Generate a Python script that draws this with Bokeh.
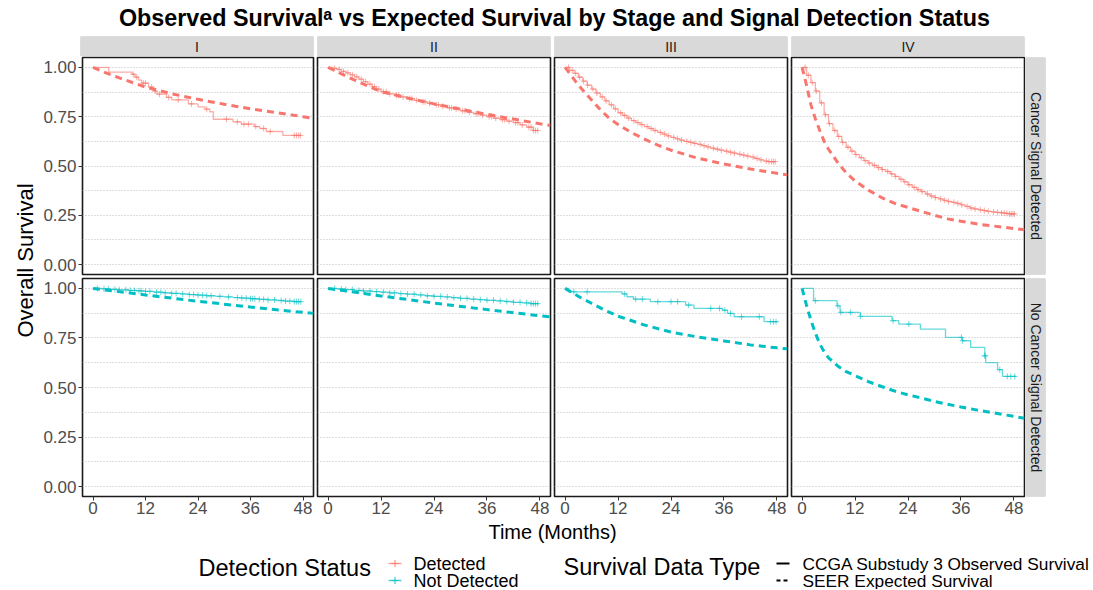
import numpy as np
from bokeh.plotting import figure
from bokeh.models import Range1d, FixedTicker, NumeralTickFormatter, LinearAxis, Grid
from bokeh.layouts import row, column
from bokeh.embed import file_html
from bokeh.resources import INLINE
from bokeh.core.properties import value

FONT = "Liberation Sans"
RED = "#F8766D"
CYAN = "#00BFC4"

TITLE = "Observed Survival\u1d43 vs Expected Survival by Stage and Signal Detection Status"
STAGES = ["I", "II", "III", "IV"]
ROW_LABELS = ["Cancer Signal Detected", "No Cancer Signal Detected"]
STATUS_LABELS = ["Detected", "Not Detected"]
TYPE_LABELS = ["CCGA Substudy 3 Observed Survival", "SEER Expected Survival"]
X_TICKS = [0, 12, 24, 36, 48]
Y_TICKS = [0.0, 0.25, 0.5, 0.75, 1.0]
Y_MINOR = [0.125, 0.375, 0.625, 0.875]

# ---------------- Observed (Kaplan-Meier) data ----------------
# Stage I, detected
obs_I_det_t = [0, 3.6, 8.9, 9.6, 10.4, 11.1, 12.7, 13.8, 14.6, 16.8, 18.0, 21.8, 24.0, 25.6, 26.7,
               27.5, 32.0, 33.9, 36.9, 38.1, 39.6, 43.4]
obs_I_det_s = [1.0, 0.976, 0.965, 0.95, 0.935, 0.92, 0.90, 0.88, 0.864, 0.848, 0.835, 0.815, 0.80,
               0.788, 0.775, 0.737, 0.724, 0.712, 0.70, 0.69, 0.675, 0.655]
obs_I_det_end = 47.5
cen_I_det = [9.2, 10.0, 11.5, 12.0, 13.4, 14.2, 15.2, 17.3, 19.5, 22.5, 26.0, 30.5, 33.0, 34.5, 35.5,
             37.2, 39.0, 40.5, 46.0, 46.5, 47.0, 47.4]

# Stage II, detected
obs_II_det_t = [0, 1, 2, 3, 4, 5, 6, 7, 8, 9, 10, 11, 12, 13.5, 15, 16.5, 18, 19.5, 21, 22.5, 24, 25.5,
                27, 28.5, 30, 31.5, 33, 34.5, 36, 37.5, 39, 40.5, 42, 43.5, 45, 46.5]
obs_II_det_s = [1.0, 0.995, 0.99, 0.98, 0.972, 0.962, 0.952, 0.94, 0.928, 0.915, 0.902, 0.89, 0.877,
                0.866, 0.858, 0.85, 0.842, 0.833, 0.825, 0.818, 0.81, 0.802, 0.795, 0.788, 0.78, 0.772,
                0.765, 0.758, 0.75, 0.742, 0.735, 0.727, 0.72, 0.708, 0.697, 0.68]
obs_II_det_end = 47.6
cen_II_det = [1.5, 2.5, 3.5, 4.5, 5.5, 6.5, 7.5, 8.5, 9.5, 10.5, 11.5, 12.5, 13.2, 14, 15.5, 16, 17,
              18.5, 19, 20, 21.5, 22, 23, 24.5, 25, 26, 27.5, 28, 29, 30.5, 31, 32, 33.5, 34, 35, 36.5,
              37, 38, 39.5, 40, 41, 42.5, 43, 44, 45.5, 46, 46.5, 47, 47.5]

# Stage III, detected
obs_III_det_t = [0, 1, 2, 3, 4, 5, 6, 7, 8, 9, 10, 11, 12, 13, 14, 15, 16, 17, 18, 19, 20, 21, 22, 23,
                 24, 25, 26, 27, 28, 29, 30, 31, 32, 33, 34, 35, 36, 37, 38, 39, 40, 41, 42, 43, 44,
                 45, 46]
obs_III_det_s = [1.0, 0.985, 0.97, 0.95, 0.93, 0.91, 0.89, 0.87, 0.85, 0.83, 0.81, 0.79, 0.77, 0.757,
                 0.743, 0.73, 0.72, 0.71, 0.70, 0.69, 0.68, 0.67, 0.662, 0.653, 0.645, 0.638, 0.631,
                 0.625, 0.62, 0.615, 0.61, 0.603, 0.597, 0.59, 0.585, 0.58, 0.575, 0.57, 0.565, 0.56,
                 0.555, 0.55, 0.545, 0.538, 0.531, 0.525, 0.522]
obs_III_det_end = 47.8
cen_III_det = [0.8, 1.6, 2.4, 3.3, 4.2, 5.1, 6.3, 7.2, 8.4, 9.3, 10.5, 11.4, 12.6, 13.5, 14.4, 15.6,
               16.5, 17.4, 18.6, 19.5, 20.4, 21.6, 22.5, 23.4, 24.6, 25.5, 26.4, 27.6, 28.5, 29.4,
               30.6, 31.5, 32.4, 33.6, 34.5, 35.4, 36.6, 37.5, 38.4, 39.6, 40.5, 41.4, 42.6, 43.5,
               44.4, 45.6, 46.2, 46.8, 47.2, 47.6]

# Stage IV, detected
obs_IV_det_t = [0, 1, 2, 3, 4, 5, 6, 7, 8, 9, 10, 11, 12, 13, 14, 15, 16, 17, 18, 19, 20, 21, 22, 23,
                24, 25, 26, 27, 28, 29, 30, 31, 32, 33, 34, 35, 36, 37, 38, 39, 40, 41, 42, 43, 44,
                45, 46, 47]
obs_IV_det_s = [1.0, 0.96, 0.923, 0.88, 0.82, 0.76, 0.715, 0.68, 0.65, 0.62, 0.595, 0.575, 0.558,
                0.542, 0.527, 0.515, 0.503, 0.492, 0.482, 0.472, 0.46, 0.447, 0.433, 0.42, 0.405,
                0.392, 0.38, 0.37, 0.358, 0.348, 0.34, 0.333, 0.326, 0.32, 0.316, 0.31, 0.303, 0.295,
                0.287, 0.282, 0.278, 0.274, 0.27, 0.267, 0.265, 0.262, 0.26, 0.257]
obs_IV_det_end = 48.2
cen_IV_det = [0.7, 1.4, 2.3, 3.2, 4.4, 5.3, 6.2, 7.4, 8.3, 9.2, 10.4, 11.3, 12.2, 13.4, 14.3, 15.2,
              16.4, 17.3, 18.2, 19.4, 20.3, 21.2, 22.4, 23.3, 24.2, 25.4, 26.3, 27.2, 28.4, 29.3,
              30.2, 31.4, 32.3, 33.2, 34.4, 35.3, 36.2, 37.4, 38.3, 39.2, 40.4, 41.3, 42.2, 43.4,
              44.3, 45.2, 45.8, 46.4, 47.0, 47.4, 47.8, 48.1]

# Stage I, not detected
obs_I_nd_t = [0, 2, 4, 6, 8, 10, 12, 14, 16, 18, 20, 22, 24, 26, 28, 30, 32, 34, 36, 38, 40, 42, 44, 46]
obs_I_nd_s = [1.0, 0.998, 0.995, 0.993, 0.99, 0.988, 0.985, 0.981, 0.978, 0.975, 0.972, 0.969, 0.966,
              0.963, 0.96, 0.957, 0.954, 0.951, 0.948, 0.945, 0.942, 0.939, 0.936, 0.933]
obs_I_nd_end = 47.5
cen_I_nd = [1, 2.5, 3.5, 5, 6, 7.5, 8.5, 9.5, 10.5, 11, 12, 13, 14.5, 15.5, 16.5, 18, 19, 20.5, 22, 23,
            24, 25, 26, 27, 29, 31, 33, 34, 35, 36, 36.5, 37, 38, 39, 40, 41.5, 43, 44, 45, 46, 46.5,
            47, 47.5]

# Stage II, not detected
obs_II_nd_t = [0, 2, 4, 6, 8, 10, 12, 14, 16, 18, 20, 22, 24, 26, 28, 30, 32, 34, 36, 38, 40, 42, 44, 46]
obs_II_nd_s = [1.0, 0.997, 0.994, 0.99, 0.987, 0.984, 0.981, 0.977, 0.974, 0.971, 0.967, 0.963, 0.96,
               0.957, 0.953, 0.95, 0.946, 0.943, 0.94, 0.937, 0.934, 0.93, 0.927, 0.923]
obs_II_nd_end = 47.7
cen_II_nd = [1.5, 3, 4, 5.5, 7, 8, 9.5, 11, 12.5, 14, 15, 16.5, 18, 19.5, 21, 22.5, 24, 25.5, 27, 28.5,
             30, 31.5, 33, 34.5, 36, 37.5, 39, 40.5, 42, 43.5, 45, 46, 46.5, 47, 47.5]

# Stage III, not detected
obs_III_nd_t = [0, 0.8, 12.9, 14.0, 15.5, 19.3, 27.3, 29.2, 35.6, 36.8, 38.3, 45.1]
obs_III_nd_s = [1.0, 0.983, 0.972, 0.958, 0.946, 0.933, 0.916, 0.899, 0.89, 0.874, 0.857, 0.832]
obs_III_nd_end = 48.2
cen_III_nd = [2, 5, 13.5, 16, 17.5, 21, 24, 25.5, 28, 33, 35, 36.2, 37.5, 40, 44, 46.5, 47.2, 47.8]

# Stage IV, not detected
obs_IV_nd_t = [0, 2.6, 7.9, 8.6, 13.2, 20.4, 21.9, 26.8, 32.5, 36.3, 38.2, 41.4, 41.6, 44.3, 45.4]
obs_IV_nd_s = [1.0, 0.938, 0.912, 0.879, 0.859, 0.837, 0.82, 0.795, 0.753, 0.736, 0.702, 0.66, 0.626,
               0.59, 0.556]
obs_IV_nd_end = 48.5
cen_IV_nd = [3.0, 8.1, 8.8, 11.0, 13.2, 20.6, 24.2, 36.1, 36.4, 41.4, 41.5, 44.8, 46.5, 47.3, 48.2]

# ---------------- SEER expected survival ----------------
exp_I_det_t = [0, 3, 6, 12, 18, 24, 30, 36, 42, 48, 50.4]
exp_I_det_s = [1.0, 0.972, 0.947, 0.90, 0.866, 0.838, 0.813, 0.79, 0.77, 0.75, 0.742]
exp_II_det_t = [0, 6, 12, 18, 24, 30, 36, 42, 48, 50.4]
exp_II_det_s = [1.0, 0.935, 0.877, 0.845, 0.815, 0.788, 0.762, 0.738, 0.714, 0.705]
exp_III_det_t = [0, 1, 2, 3, 4, 6, 8, 10, 12, 15, 18, 21, 24, 30, 36, 42, 48, 50.4]
exp_III_det_s = [1.0, 0.97, 0.94, 0.91, 0.885, 0.835, 0.785, 0.742, 0.71, 0.67, 0.636, 0.606, 0.58,
                 0.54, 0.51, 0.485, 0.463, 0.455]
exp_IV_det_t = [0, 1, 2, 3, 4, 5, 6, 8, 10, 12, 15, 18, 21, 24, 27, 30, 33, 36, 40, 44, 48, 50.4]
exp_IV_det_s = [1.0, 0.91, 0.81, 0.74, 0.68, 0.625, 0.585, 0.52, 0.465, 0.424, 0.378, 0.34, 0.31, 0.29,
                0.27, 0.25, 0.232, 0.22, 0.205, 0.194, 0.183, 0.177]
exp_I_nd_t = [0, 12, 24, 36, 48, 50.4]
exp_I_nd_s = [1.0, 0.967, 0.935, 0.906, 0.879, 0.874]
exp_II_nd_t = [0, 12, 24, 36, 48, 50.4]
exp_II_nd_s = [1.0, 0.962, 0.926, 0.893, 0.862, 0.856]
exp_III_nd_t = [0, 3, 6, 9, 12, 18, 24, 30, 36, 42, 48, 50.4]
exp_III_nd_s = [1.0, 0.96, 0.925, 0.89, 0.86, 0.815, 0.78, 0.755, 0.735, 0.715, 0.70, 0.695]
exp_IV_nd_t = [0, 1, 2, 3, 4, 5, 6, 8, 10, 12, 15, 18, 21, 24, 27, 30, 33, 36, 40, 44, 48, 50.4]
exp_IV_nd_s = [1.0, 0.915, 0.84, 0.775, 0.72, 0.68, 0.65, 0.61, 0.58, 0.56, 0.53, 0.505, 0.482, 0.463,
               0.447, 0.43, 0.415, 0.402, 0.385, 0.37, 0.354, 0.345]

PANELS = [
    [(obs_I_det_t, obs_I_det_s, obs_I_det_end, cen_I_det, exp_I_det_t, exp_I_det_s),
     (obs_II_det_t, obs_II_det_s, obs_II_det_end, cen_II_det, exp_II_det_t, exp_II_det_s),
     (obs_III_det_t, obs_III_det_s, obs_III_det_end, cen_III_det, exp_III_det_t, exp_III_det_s),
     (obs_IV_det_t, obs_IV_det_s, obs_IV_det_end, cen_IV_det, exp_IV_det_t, exp_IV_det_s)],
    [(obs_I_nd_t, obs_I_nd_s, obs_I_nd_end, cen_I_nd, exp_I_nd_t, exp_I_nd_s),
     (obs_II_nd_t, obs_II_nd_s, obs_II_nd_end, cen_II_nd, exp_II_nd_t, exp_II_nd_s),
     (obs_III_nd_t, obs_III_nd_s, obs_III_nd_end, cen_III_nd, exp_III_nd_t, exp_III_nd_s),
     (obs_IV_nd_t, obs_IV_nd_s, obs_IV_nd_end, cen_IV_nd, exp_IV_nd_t, exp_IV_nd_s)],
]
ROW_COLORS = [RED, CYAN]

# ---------------- layout geometry (page pixels) ----------------
FRAME_W = 233
FRAME_H = [217, 218]
YLAB_W = 40
BL = [40, 2, 2, 2]
BR = [2, 2, 2, 1]
BT = [1, 2]
BB = [2, 24]
TITLE_H = 36
STRIP_H = 20
RSTRIP_W = 21
PAGE_W = 1093
PAGE_H = 589


def base_fig(w, h, xr, yr, bl=0, br=0, bt=0, bb=0):
    p = figure(width=w, height=h, x_range=xr, y_range=yr,
               x_axis_location=None, y_axis_location=None,
               output_backend="svg", toolbar_location=None,
               min_border_left=bl, min_border_right=br,
               min_border_top=bt, min_border_bottom=bb,
               background_fill_color="white", border_fill_color="white",
               outline_line_color=None)
    p.title.visible = False
    p.center = [r for r in p.center if not isinstance(r, Grid)]
    return p


def pixfig(w, h, x0, y0):
    # coordinates: x in page pixels, y = -page pixels
    return base_fig(w, h, Range1d(x0, x0 + w), Range1d(-(y0 + h), -y0))


def step_value(t, s, c):
    i = int(np.searchsorted(np.asarray(t), c, side="right")) - 1
    return s[max(i, 0)]


def style_axis(ax, standoff):
    ax.axis_line_color = None
    ax.major_tick_line_color = "#333333"
    ax.major_tick_out = 4
    ax.major_tick_in = 0
    ax.minor_tick_line_color = None
    ax.major_label_standoff = standoff
    ax.major_label_text_font = FONT
    ax.major_label_text_font_size = "17px"
    ax.major_label_text_color = "#4d4d4d"


def panel(r, c):
    w = BL[c] + FRAME_W + BR[c]
    h = BT[r] + FRAME_H[r] + BB[r]
    p = base_fig(w, h, Range1d(-2.4, 50.4), Range1d(-0.05, 1.05), BL[c], BR[c], BT[r], BB[r])
    p.outline_line_color = "#1a1a1a"
    p.outline_line_width = 1.6
    yt = FixedTicker(ticks=Y_TICKS, minor_ticks=Y_MINOR)
    p.add_layout(Grid(dimension=1, ticker=yt,
                      grid_line_color="#bdbdbd", grid_line_dash="1 2", grid_line_width=1,
                      minor_grid_line_color="#bdbdbd", minor_grid_line_dash="1 2",
                      minor_grid_line_width=1))
    if c == 0:
        ax = LinearAxis(ticker=FixedTicker(ticks=Y_TICKS), formatter=NumeralTickFormatter(format="0.00"))
        style_axis(ax, 2)
        p.add_layout(ax, "left")
    if r == 1:
        ax = LinearAxis(ticker=FixedTicker(ticks=X_TICKS))
        style_axis(ax, 1)
        p.add_layout(ax, "below")

    ot, os_, oend, cen, et, es = PANELS[r][c]
    col = ROW_COLORS[r]
    p.line(et, es, line_color=col, line_width=3, line_dash="7 5")
    p.step(list(ot) + [oend], list(os_) + [os_[-1]], mode="after",
           line_color=col, line_width=1.3, line_alpha=0.6)
    cy = [step_value(ot, os_, v) for v in cen]
    p.scatter(cen, cy, marker="cross", size=6, line_color=col, line_alpha=0.6, line_width=1)
    return p


def strip_top(c):
    w = BL[c] + FRAME_W + BR[c]
    p = base_fig(w, STRIP_H, Range1d(0, 1), Range1d(0, 1), BL[c], BR[c], 0, 0)
    p.quad(left=[0], right=[1], bottom=[0], top=[1], fill_color="#d9d9d9",
           line_color="#c4c4c4", line_width=1)
    p.text(x=[0.5], y=[0.5], text=[STAGES[c]], text_font=value(FONT), text_font_size="14px",
           text_color="#1a1a1a", text_align="center", text_baseline="middle")
    return p


def strip_right(r):
    h = BT[r] + FRAME_H[r] + BB[r]
    p = base_fig(RSTRIP_W, h, Range1d(0, 1), Range1d(0, 1), 0, 1, BT[r], BB[r])
    p.quad(left=[0], right=[1], bottom=[0], top=[1], fill_color="#d9d9d9",
           line_color="#c4c4c4", line_width=1)
    p.text(x=[0.5], y=[0.5], text=[ROW_LABELS[r]], text_font=value(FONT), text_font_size="14px",
           text_color="#1a1a1a", text_align="center", text_baseline="middle", angle=-np.pi / 2)
    return p


# title
title_fig = pixfig(PAGE_W, TITLE_H, 0, 0)
title_fig.text(x=[554], y=[-17], text=[TITLE], text_font=value(FONT), text_font_size="23.3px",
               text_font_style="bold", text_color="black", text_align="center",
               text_baseline="middle")

strip_row = row(*[strip_top(c) for c in range(4)])
panel_rows = [row(*([panel(r, c) for c in range(4)] + [strip_right(r)])) for r in range(2)]
grid_h = STRIP_H + sum(BT[r] + FRAME_H[r] + BB[r] for r in range(2))

ylab_fig = pixfig(YLAB_W, grid_h, 0, TITLE_H)
ylab_fig.text(x=[25], y=[-260], text=["Overall Survival"], text_font=value(FONT),
              text_font_size="22px", text_color="black", text_align="center",
              text_baseline="middle", angle=np.pi / 2)

mid = row(ylab_fig, column(strip_row, panel_rows[0], panel_rows[1]))

# bottom area: x-axis title + legends
bot_y0 = TITLE_H + grid_h
bot = pixfig(PAGE_W, PAGE_H - bot_y0, 0, bot_y0)
bot.text(x=[552], y=[-(bot_y0 + 11.5)], text=["Time (Months)"], text_font=value(FONT),
         text_font_size="20px", text_color="black", text_align="center",
         text_baseline="middle")
bot.text(x=[198], y=[-567], text=["Detection Status"], text_font=value(FONT), text_font_size="23.5px",
         text_color="black", text_align="left", text_baseline="middle")
bot.text(x=[563], y=[-566], text=["Survival Data Type"], text_font=value(FONT), text_font_size="23.5px",
         text_color="black", text_align="left", text_baseline="middle")
ky = [-563, -580]
for i, lab in enumerate(STATUS_LABELS):
    colr = ROW_COLORS[i]
    bot.segment(x0=[388], y0=[ky[i]], x1=[401], y1=[ky[i]], line_color=colr, line_width=1.5, line_alpha=0.7)
    bot.scatter(x=[394.5], y=[ky[i]], marker="cross", size=7, line_color=colr, line_alpha=0.8, line_width=1.2)
    bot.text(x=[413], y=[ky[i]], text=[lab], text_font=value(FONT), text_font_size="18px",
             text_color="black", text_align="left", text_baseline="middle")
for i, lab in enumerate(TYPE_LABELS):
    bot.segment(x0=[776], y0=[ky[i]], x1=[789], y1=[ky[i]], line_color="black", line_width=2,
                line_dash="solid" if i == 0 else "4 3")
    bot.text(x=[802], y=[ky[i]], text=[lab], text_font=value(FONT), text_font_size="17.3px",
             text_color="black", text_align="left", text_baseline="middle")

layout = column(title_fig, mid, bot)

with open("out.html", "w") as f:
    f.write(file_html(layout, INLINE))
